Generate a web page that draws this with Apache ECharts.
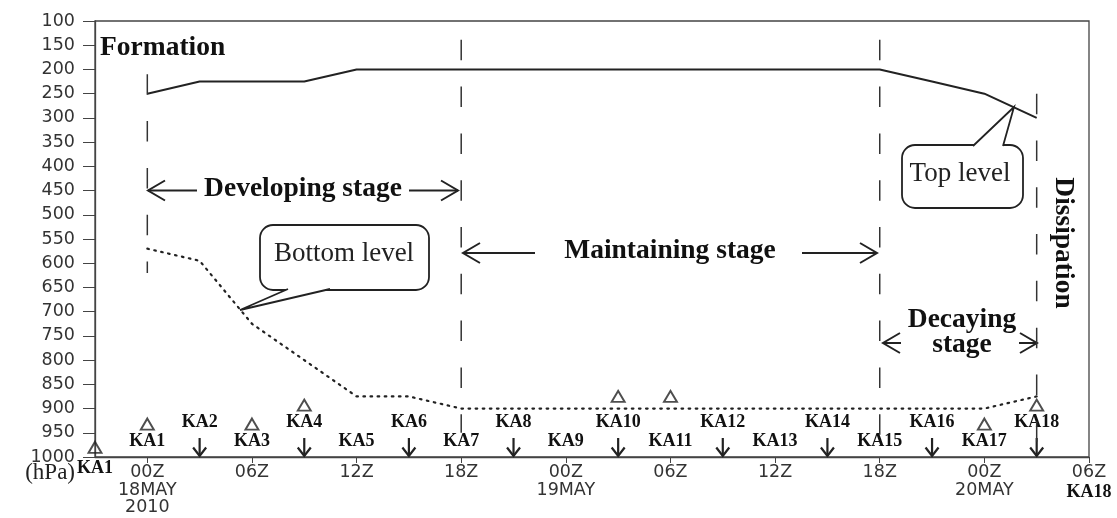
<!DOCTYPE html>
<html>
<head>
<meta charset="utf-8">
<script src="https://cdn.jsdelivr.net/npm/echarts@6/dist/echarts.min.js"></script>
<style>
  html, body { margin: 0; padding: 0; background: #fff; }
  #chart { width: 1117px; height: 518px; }
</style>
</head>
<body>
<div id="chart"></div>
<script>
// Hours after 00Z 18 May 2010
const topHours = [0, 3, 9, 12, 42, 45, 48, 51];
const topLevel = [250, 225, 225, 200, 200, 225, 250, 300];          // hPa
const bottomHours = [0, 3, 6, 9, 12, 15, 18, 48, 51];
const bottomLevel = [570, 595, 725, 800, 875, 875, 900, 900, 875];  // hPa

// Sounding launches
const launchNames = ['KA1', 'KA2', 'KA3', 'KA4', 'KA5', 'KA6', 'KA7', 'KA8', 'KA9',
  'KA10', 'KA11', 'KA12', 'KA13', 'KA14', 'KA15', 'KA16', 'KA17', 'KA18'];
const launchHours = [0, 3, 6, 9, 12, 15, 18, 21, 24, 27, 30, 33, 36, 39, 42, 45, 48, 51];

// Open triangles
const triHours = [-3, 0, 6, 9, 27, 30, 48, 51];
const triLevel = [980, 932, 932, 893, 875, 875, 932, 893];

// Labels at the ends of the time axis
const edgeNames = ['KA1', 'KA18'];
const edgeHours = [-3, 54];

// Stage boundaries (vertical dashed lines)
const stageHours = [0, 18, 42, 51];
const stageFrom = [210, 100, 100, 250];
const stageTo = [620, 950, 965, 1000];

// Axis ticks
const timeTicks = [0, 6, 12, 18, 24, 30, 36, 42, 48, 54];
const timeTickLabels = ['00Z\n18MAY\n2010', '06Z', '12Z', '18Z', '00Z\n19MAY', '06Z', '12Z', '18Z', '00Z\n20MAY', '06Z'];

const INK = '#222';
const SERIF = "'Liberation Serif', 'Times New Roman', serif";
const SANS = "'DejaVu Sans', sans-serif";

const chart = echarts.init(document.getElementById('chart'));

// lines hanging from the top frame start inside a gap, the others start with a dash
const stageSeries = stageHours.map((h, i) => ({
  type: 'line',
  data: [[h, stageFrom[i]], [h, stageTo[i]]],
  symbol: 'none',
  silent: true,
  lineStyle: { color: '#333', width: 1.5, type: [20.5, 26.3], dashOffset: stageFrom[i] === 100 ? 28 : 0 }
}));

function arrowHead(x, y, dir) {
  // dir: -1 pointing left, +1 pointing right
  return { type: 'polyline', shape: { points: [[x - dir * 17, y - 10], [x, y], [x - dir * 17, y + 10]] },
    style: { stroke: INK, lineWidth: 2, fill: null } };
}
function hArrow(x1, x2, y, tipAtLeft) {
  const els = [{ type: 'line', shape: { x1: x1, y1: y, x2: x2, y2: y }, style: { stroke: INK, lineWidth: 2 } }];
  els.push(tipAtLeft ? arrowHead(x1, y, -1) : arrowHead(x2, y, 1));
  return els;
}
function callout(box, base1, base2, tip, text, tx, ty) {
  return [
    { type: 'rect', shape: { x: box[0], y: box[1], width: box[2], height: box[3], r: 13 },
      style: { fill: '#fff', stroke: INK, lineWidth: 1.8 } },
    { type: 'polygon', shape: { points: [base1, tip, base2] }, style: { fill: '#fff' } },
    { type: 'polyline', shape: { points: [base1, tip, base2] }, style: { stroke: INK, lineWidth: 1.8, fill: null } },
    { type: 'text', style: { text: text, x: tx, y: ty, font: '27px ' + SERIF, fill: INK, align: 'center', verticalAlign: 'middle' } }
  ];
}
function boldText(text, x, y, align) {
  return { type: 'text', style: { text: text, x: x, y: y, font: 'bold 27.5px ' + SERIF, fill: '#111',
    align: align || 'center', verticalAlign: 'middle' } };
}

const graphics = [].concat(
  [boldText('Formation', 100, 48, 'left')],
  hArrow(148, 197, 190.5, true), hArrow(409, 458, 190.5, false),
  [boldText('Developing stage', 303, 189)],
  hArrow(463, 535, 253, true), hArrow(802, 877, 253, false),
  [boldText('Maintaining stage', 670, 251)],
  hArrow(883, 901, 343, true), hArrow(1019, 1037, 343, false),
  [boldText('Decaying', 962, 320), boldText('stage', 962, 345)],
  [{ type: 'text', x: 1063, y: 243, rotation: -Math.PI / 2,
     style: { text: 'Dissipation', x: 0, y: 0, font: 'bold 27.5px ' + SERIF, fill: '#111', align: 'center', verticalAlign: 'middle' } }],
  callout([260, 225, 169, 65], [288, 289], [330, 289], [240, 310], 'Bottom level', 344, 254),
  callout([902, 145, 121, 63], [973, 146], [1003, 146], [1014, 107], 'Top level', 960, 174),
  [{ type: 'text', style: { text: '(hPa)', x: 75, y: 473, font: '23px ' + SERIF, fill: INK, align: 'right', verticalAlign: 'middle' } }]
);

chart.setOption({
  animation: false,
  grid: { left: 95, right: 28, top: 21, bottom: 61, show: true, borderColor: '#444', borderWidth: 1.3, backgroundColor: 'transparent' },
  xAxis: {
    type: 'value', min: -3, max: 54,
    splitLine: { show: false },
    axisLine: { show: true, onZero: false, lineStyle: { color: '#444', width: 1.3 } },
    axisTick: { show: true, customValues: timeTicks, length: 6, lineStyle: { color: '#444' } },
    axisLabel: {
      customValues: timeTicks, margin: 7,
      fontFamily: SANS, fontSize: 17.5, lineHeight: 17.5, color: '#333',
      formatter: function (v) { const k = timeTicks.indexOf(v); return k >= 0 ? timeTickLabels[k] : ''; }
    }
  },
  yAxis: {
    type: 'value', inverse: true, min: 100, max: 1000, interval: 50,
    splitLine: { show: false },
    axisLine: { show: true, onZero: false, lineStyle: { color: '#444', width: 1.3 } },
    axisTick: { show: true, length: 12, lineStyle: { color: '#444' } },
    axisLabel: { margin: 20, fontFamily: SANS, fontSize: 17.5, color: '#333', showMinLabel: true, showMaxLabel: true,
      formatter: function (v) { return String(v); } }
  },
  series: [
    {
      name: 'Top level', type: 'line', symbol: 'none',
      data: topHours.map((h, i) => [h, topLevel[i]]),
      lineStyle: { color: INK, width: 2 }
    },
    {
      name: 'Bottom level', type: 'line', symbol: 'none',
      data: bottomHours.map((h, i) => [h, bottomLevel[i]]),
      lineStyle: { color: INK, width: 2.2, type: [1.6, 5.5], cap: 'round' }
    }
  ].concat(stageSeries, [
    {
      type: 'scatter', clip: false, silent: true,
      symbol: 'triangle', symbolSize: [13, 11],
      itemStyle: { color: 'rgba(0,0,0,0)', borderColor: INK, borderWidth: 1.9 },
      data: triHours.map((h, i) => [h, triLevel[i]])
    },
    {
      // launch names along the time axis, with down arrows for every second launch
      type: 'custom', clip: false, silent: true,
      data: launchHours.map((h, i) => [h, i]),
      renderItem: function (params, api) {
        const i = api.value(1);
        const p = api.coord([api.value(0), 1000]);
        const upper = i % 2 === 1;
        const children = [{
          type: 'text',
          style: { text: launchNames[i], x: p[0], y: p[1] - (upper ? 35 : 16),
            font: 'bold 18px ' + SERIF, fill: '#111', align: 'center', verticalAlign: 'middle' }
        }];
        if (upper) {
          children.push({ type: 'line', shape: { x1: p[0], y1: p[1] - 19, x2: p[0], y2: p[1] - 1 },
            style: { stroke: INK, lineWidth: 2.2 } });
          children.push({ type: 'polyline', shape: { points: [[p[0] - 6.5, p[1] - 9.5], [p[0], p[1] - 1], [p[0] + 6.5, p[1] - 9.5]] },
            style: { stroke: INK, lineWidth: 2.2, fill: null } });
        }
        return { type: 'group', children: children };
      }
    },
    {
      type: 'custom', clip: false, silent: true,
      data: edgeHours.map((h, i) => [h, i]),
      renderItem: function (params, api) {
        const i = api.value(1);
        const p = api.coord([api.value(0), 1000]);
        return {
          type: 'text',
          style: { text: edgeNames[i], x: p[0], y: p[1] + (i === 0 ? 11 : 35),
            font: 'bold 18px ' + SERIF, fill: '#111', align: 'center', verticalAlign: 'middle' }
        };
      }
    }
  ]),
  graphic: { elements: graphics }
});
</script>
</body>
</html>
